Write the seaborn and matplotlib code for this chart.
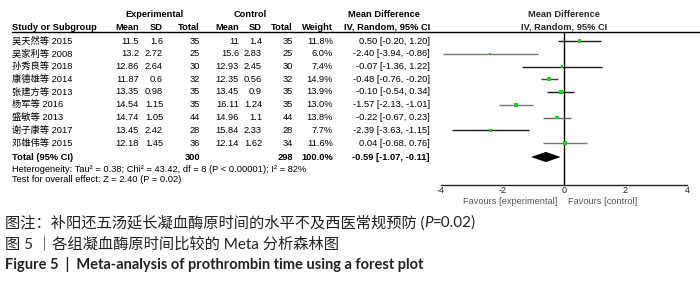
import matplotlib
matplotlib.use("Agg")

import numpy as np
import pandas as pd
import seaborn as sb
import matplotlib.pyplot as plt
from matplotlib.lines import Line2D
from matplotlib.transforms import blended_transform_factory


# ---- data ----
studies = ["吴天然等 2015", "吴家利等 2008", "孙秀良等 2018", "康德雄等 2014",
           "张建方等 2013", "杨军等 2016", "盛敏等 2013", "谢子康等 2017",
           "邓雄伟等 2015"]
exp_mean = [11.5, 13.2, 12.86, 11.87, 13.35, 14.54, 14.74, 13.45, 12.18]
exp_sd = [1.6, 2.72, 2.64, 0.6, 0.98, 1.15, 1.05, 2.42, 1.45]
exp_n = [35, 25, 30, 32, 35, 35, 44, 28, 36]
ctl_mean = [11, 15.6, 12.93, 12.35, 13.45, 16.11, 14.96, 15.84, 12.14]
ctl_sd = [1.4, 2.83, 2.45, 0.56, 0.9, 1.24, 1.1, 2.33, 1.62]
ctl_n = [35, 25, 30, 32, 35, 35, 44, 28, 34]
weight = [11.8, 6.0, 7.4, 14.9, 13.9, 13.0, 13.8, 7.7, 11.6]
md = [0.50, -2.40, -0.07, -0.48, -0.10, -1.57, -0.22, -2.39, 0.04]
ci_lo = [-0.20, -3.94, -1.36, -0.76, -0.54, -2.13, -0.67, -3.63, -0.68]
ci_hi = [1.20, -0.86, 1.22, -0.20, 0.34, -1.01, 0.23, -1.15, 0.76]

total_weight = 100.0
total_md = -0.59
total_lo = -1.07
total_hi = -0.11
heterogeneity = "Heterogeneity: Tau² = 0.38; Chi² = 43.42, df = 8 (P < 0.00001); I² = 82%"
overall = "Test for overall effect: Z = 2.40 (P = 0.02)"
xticks = [-4, -2, 0, 2, 4]

# line shade of each CI bar as it appears in the picture
line_colors = ["#1a1a1a", "#777777", "#1a1a1a", "#444444", "#1a1a1a",
               "#777777", "#666666", "#1a1a1a", "#777777"]

# ---- layout (figure pixels) ----
W, H = 700, 284
ROW0, STEP = 41, 12.75          # y of first study row, row pitch
AX_TOP, AX_BOT = 32, 185
AX_L, AX_R = 441, 687


def row_of(px):
    return (px - ROW0) / STEP


sb.set_style("white")
plt.rcParams["axes.unicode_minus"] = False
TAB_FONT = ["Liberation Sans", "Noto Sans CJK SC"]
CAP_FONT = ["Lato", "Noto Sans CJK SC"]
FS = 6.7

fig = plt.figure(figsize=(W / 100, H / 100), dpi=100)
ax = fig.add_axes([AX_L / W, 1 - AX_BOT / H, (AX_R - AX_L) / W, (AX_BOT - AX_TOP) / H])
ax.set_xlim(-4, 4)
ax.set_ylim(row_of(AX_BOT), row_of(AX_TOP))

rows = np.arange(len(studies))
df = pd.DataFrame({"md": md, "row": rows, "weight": weight})

# CI bars
for i in rows:
    ax.hlines(i, ci_lo[i], ci_hi[i], color=line_colors[i], lw=1.0, zorder=2)

# study squares
sb.scatterplot(x="md", y="row", data=df, size="weight", sizes=(2.2, 9),
               marker="s", color="#22cc22", linewidth=0, legend=False,
               ax=ax, zorder=3)

# pooled diamond
ty = row_of(157)
ax.fill([total_lo, total_md, total_hi, total_md],
        [ty, ty - 0.4, ty, ty + 0.4], color="black", lw=0, zorder=3)

ax.axvline(0, color="black", lw=1.0, zorder=1)

for s in ["top", "left", "right"]:
    ax.spines[s].set_visible(False)
ax.spines["bottom"].set_linewidth(1.0)
ax.set_yticks([])
ax.set_xticks(xticks)
ax.set_xticklabels([str(t) for t in xticks])
ax.tick_params(axis="x", direction="inout", length=7, width=1.0,
               labelsize=6.5, pad=-2.5)
for lab in ax.get_xticklabels():
    lab.set_family(TAB_FONT)
ax.set_xlabel("")
ax.set_ylabel("")

tt = blended_transform_factory(fig.transFigure, ax.transData)


def cell(x, row, s, ha="right", bold=False, color="black"):
    ax.text(x / W, row, s, transform=tt, ha=ha, va="center", fontsize=FS,
            family=TAB_FONT, fontweight="bold" if bold else "normal",
            color=color, clip_on=False)


# header
h1, h2 = row_of(14), row_of(27)
cell(155, h1, "Experimental", ha="center", bold=True)
cell(250, h1, "Control", ha="center", bold=True)
cell(384, h1, "Mean Difference", ha="center", bold=True)
ax.text(0, h1, "Mean Difference", ha="center", va="center", fontsize=FS,
        family=TAB_FONT, fontweight="bold", clip_on=False)
ax.text(0, h2, "IV, Random, 95% CI", ha="center", va="center", fontsize=FS,
        family=TAB_FONT, fontweight="bold", clip_on=False)

cols = [139, 163, 200, 239, 262, 293]
cell(12, h2, "Study or Subgroup", ha="left", bold=True)
for x, name in zip(cols, ["Mean", "SD", "Total", "Mean", "SD", "Total"]):
    cell(x, h2, name, bold=True)
cell(333, h2, "Weight", bold=True)
cell(430, h2, "IV, Random, 95% CI", bold=True)

fig.add_artist(Line2D([12 / W, 1], [1 - AX_TOP / H] * 2, color="black",
                      lw=1.0, transform=fig.transFigure))

# study rows
for i in rows:
    cell(12, i, studies[i], ha="left")
    vals = [exp_mean[i], exp_sd[i], exp_n[i], ctl_mean[i], ctl_sd[i], ctl_n[i]]
    for x, v in zip(cols, vals):
        cell(x, i, f"{v:g}")
    cell(333, i, f"{weight[i]:.1f}%")
    cell(430, i, f"{md[i]:.2f} [{ci_lo[i]:.2f}, {ci_hi[i]:.2f}]")

# total
cell(12, ty, "Total (95% CI)", ha="left", bold=True)
cell(200, ty, str(sum(exp_n)), bold=True)
cell(293, ty, str(sum(ctl_n)), bold=True)
cell(333, ty, f"{total_weight:.1f}%", bold=True)
cell(430, ty, f"{total_md:.2f} [{total_lo:.2f}, {total_hi:.2f}]", bold=True)
cell(12, row_of(169), heterogeneity, ha="left")
cell(12, row_of(180), overall, ha="left")

fy = row_of(202)
ax.text(-0.23, fy, "Favours [experimental]", ha="right", va="center",
        fontsize=FS, family=TAB_FONT, color="#555555", clip_on=False)
ax.text(0.13, fy, "Favours [control]", ha="left", va="center",
        fontsize=FS, family=TAB_FONT, color="#555555", clip_on=False)

# captions
renderer = fig.canvas.get_renderer()


def runs(x, y, parts, size, weight="normal"):
    x = x / W
    for s, style in parts:
        t = fig.text(x, 1 - y / H, s, style=style, fontsize=size,
                     family=CAP_FONT, fontweight=weight, color="#222222",
                     va="center", ha="left")
        x = t.get_window_extent(renderer).x1 / W


runs(5, 223, [("图注：补阳还五汤延长凝血酶原时间的水平不及西医常规预防 (", "normal"),
              ("P", "italic"), ("=0.02)", "normal")], 11)
runs(5, 244, [("图 5 ｜各组凝血酶原时间比较的 Meta 分析森林图", "normal")], 11)
runs(5, 265, [("Figure 5  |  Meta-analysis of prothrombin time using a forest plot",
               "normal")], 10.5, weight="bold")

fig.savefig("out.png", dpi=100)
